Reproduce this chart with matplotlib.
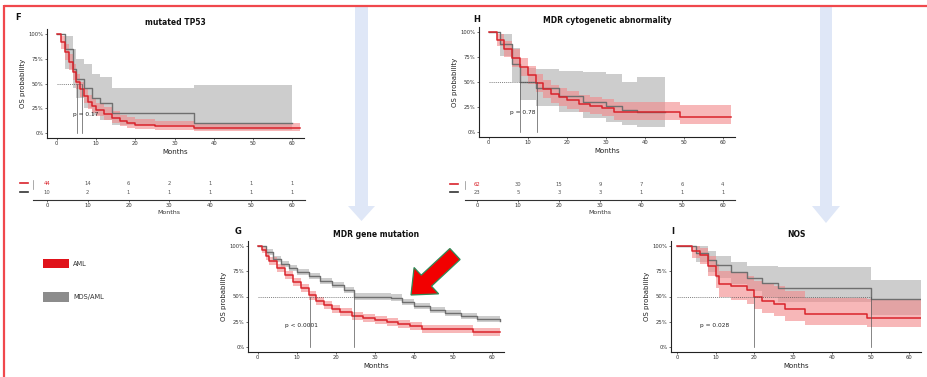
import matplotlib
matplotlib.use("Agg")
import matplotlib.pyplot as plt
from matplotlib.patches import FancyArrow, Rectangle, Polygon

W, H = 927, 377
RED = "#d9232b"
RED_FILL = "#f2878a"
GREY = "#6f6f6f"
GREY_FILL = "#bdbdbd"

# ---------------- data ----------------
month_ticks = [0, 10, 20, 30, 40, 50, 60]
pct_ticks = [0, 25, 50, 75, 100]
pct_labels = ["0%", "25%", "50%", "75%", "100%"]

# Panel F: mutated TP53
f_aml_t = [0, 1, 2, 3, 4, 5, 6, 7, 8, 9, 10, 12, 14, 16, 18, 20, 25, 35, 62]
f_aml_s = [100, 92, 82, 72, 62, 52, 44, 37, 31, 27, 23, 19, 15, 12, 10, 8, 7, 5, 5]
f_aml_lo = [100, 85, 74, 64, 54, 44, 36, 30, 24, 20, 17, 13, 10, 7, 5, 4, 3, 2, 2]
f_aml_hi = [100, 98, 90, 80, 70, 60, 52, 45, 38, 34, 30, 26, 22, 18, 16, 14, 12, 10, 10]
f_mds_t = [0, 2, 4, 5, 7, 9, 11, 14, 35, 60]
f_mds_s = [100, 85, 65, 55, 45, 35, 30, 20, 10, 10]
f_mds_lo = [100, 65, 45, 35, 25, 18, 13, 8, 3, 3]
f_mds_hi = [100, 98, 85, 75, 70, 60, 57, 45, 48, 48]
f_medians = [5.2, 6.3]
f_risk_aml = ["44", "14", "6", "2", "1", "1", "1"]
f_risk_mds = ["10", "2", "1", "1", "1", "1", "1"]

# Panel H: MDR cytogenetic abnormality
h_aml_t = [0, 2, 4, 6, 8, 10, 12, 14, 16, 18, 20, 23, 26, 29, 32, 49, 62]
h_aml_s = [100, 92, 83, 74, 65, 57, 49, 43, 38, 35, 32, 28, 26, 24, 20, 15, 15]
h_aml_lo = [100, 86, 75, 65, 56, 48, 40, 34, 29, 26, 23, 20, 18, 16, 12, 8, 8]
h_aml_hi = [100, 98, 91, 83, 74, 66, 58, 52, 47, 44, 41, 37, 35, 33, 30, 27, 27]
h_mds_t = [0, 3, 6, 8, 12, 18, 24, 30, 34, 38, 45]
h_mds_s = [100, 88, 68, 50, 44, 36, 30, 26, 22, 20, 20]
h_mds_lo = [100, 76, 50, 32, 26, 20, 14, 10, 7, 5, 5]
h_mds_hi = [100, 98, 84, 64, 63, 61, 60, 58, 50, 55, 55]
h_medians = [8.0, 12.3]
h_risk_aml = ["62", "30", "15", "9", "7", "6", "4"]
h_risk_mds = ["23", "5", "3", "3", "1", "1", "1"]

# Panel G: MDR gene mutation
g_aml_t = [0, 1, 2, 3, 5, 7, 9, 11, 13, 15, 17, 19, 21, 24, 27, 30, 33, 36, 39, 42, 48, 55, 62]
g_aml_s = [100, 96, 90, 85, 78, 71, 64, 58, 51, 46, 42, 38, 35, 31, 29, 27, 25, 23, 21, 18, 18, 15, 15]
g_aml_lo = [100, 93, 86, 81, 74, 67, 60, 54, 47, 42, 38, 34, 31, 27, 25, 23, 21, 19, 17, 14, 14, 11, 11]
g_aml_hi = [100, 99, 94, 89, 82, 75, 68, 62, 55, 50, 46, 42, 39, 35, 33, 31, 29, 27, 25, 22, 22, 19, 19]
g_mds_t = [0, 2, 4, 6, 8, 10, 13, 16, 19, 22, 24.5, 28, 34, 37, 40, 44, 48, 52, 56, 62]
g_mds_s = [100, 94, 87, 82, 78, 74, 70, 65, 61, 56, 50, 50, 49, 45, 41, 37, 34, 31, 28, 26]
g_mds_lo = [100, 91, 84, 79, 75, 71, 67, 62, 58, 53, 47, 47, 46, 42, 38, 34, 31, 28, 25, 22]
g_mds_hi = [100, 97, 90, 85, 81, 77, 73, 68, 64, 59, 53, 53, 52, 48, 44, 40, 37, 34, 31, 30]
g_medians = [13.3, 24.6]

# Panel I: NOS
i_aml_t = [0, 4, 6, 8, 10, 11, 14, 18, 20, 22, 25, 28, 33, 49, 63]
i_aml_s = [100, 95, 91, 80, 70, 62, 60, 56, 50, 46, 43, 38, 33, 29, 29]
i_aml_lo = [100, 88, 82, 70, 58, 50, 47, 43, 38, 34, 31, 26, 22, 20, 20]
i_aml_hi = [100, 100, 98, 90, 82, 75, 73, 70, 65, 62, 60, 55, 49, 48, 48]
i_mds_t = [0, 5, 8, 10, 14, 18, 22, 26, 50, 63]
i_mds_s = [100, 93, 86, 81, 74, 68, 63, 58, 48, 48]
i_mds_lo = [100, 84, 74, 68, 62, 55, 50, 45, 32, 32]
i_mds_hi = [100, 100, 95, 90, 84, 80, 80, 79, 66, 66]
i_medians = [20.0, 50.0]

legend_labels = ["AML", "MDS/AML"]

# ---------------- helpers ----------------
fig = plt.figure(figsize=(W / 100, H / 100), dpi=100)
fig.patch.set_facecolor("white")


def px_axes(x0, y0, x1, y1, z=1):
    ax = fig.add_axes([x0 / W, 1 - y1 / H, (x1 - x0) / W, (y1 - y0) / H], zorder=z)
    ax.patch.set_alpha(0)
    return ax


# background overlay (border + blue arrows)
bg = px_axes(0, 0, W, H, z=0)
bg.set_xlim(0, W)
bg.set_ylim(H, 0)
bg.axis("off")
bg.plot([4, W], [5.5, 5.5], color="#f0484c", lw=1.6, solid_capstyle="butt")
bg.plot([4.5, 4.5], [5, H], color="#f0484c", lw=1.6, solid_capstyle="butt")
for cx, ytop, ybase, ytip, sw, hw in [(361.5, 6, 206, 221, 13, 27), (826, 6, 206, 223, 12, 28)]:
    bg.add_patch(Polygon([[cx - sw / 2, ytop], [cx + sw / 2, ytop], [cx + sw / 2, ybase],
                          [cx + hw / 2, ybase], [cx, ytip], [cx - hw / 2, ybase],
                          [cx - sw / 2, ybase]], closed=True, facecolor="#dfe7f7",
                         edgecolor="none"))


def km_panel(box, letter, letter_px, title, aml, mds, medians, ptext, ppos,
             xlim=(-2.5, 63), hline_style=(0, (1.5, 1.5)), vline_style="-"):
    ax = px_axes(*box)
    at, as_, alo, ahi = aml
    mt, ms, mlo, mhi = mds
    ax.fill_between(mt, mlo, mhi, step="post", color=GREY_FILL, alpha=0.75, lw=0, zorder=1)
    ax.fill_between(at, alo, ahi, step="post", color=RED_FILL, alpha=0.6, lw=0, zorder=2)
    ax.step(mt, ms, where="post", color=GREY, lw=1.0, zorder=3)
    ax.step(at, as_, where="post", color=RED, lw=1.1, zorder=4)
    ax.plot([0, max(medians)], [50, 50], color="#555555", lw=0.5, ls=hline_style, zorder=5)
    for m in medians:
        ax.plot([m, m], [0, 50], color="#555555", lw=0.5, ls=vline_style, zorder=5)
    ax.text(ppos[0], ppos[1], ptext, fontsize=4.2, color="#222222", zorder=6)
    ax.set_xlim(*xlim)
    ax.set_ylim(-5, 105)
    ax.set_xticks(month_ticks)
    ax.set_yticks(pct_ticks)
    ax.set_yticklabels(pct_labels)
    ax.tick_params(labelsize=3.8, length=1.5, width=0.5, pad=1, colors="#333333")
    for s in ["top", "right"]:
        ax.spines[s].set_visible(False)
    for s in ["left", "bottom"]:
        ax.spines[s].set_linewidth(0.8)
        ax.spines[s].set_color("#222222")
    ax.set_xlabel("Months", fontsize=5, labelpad=1.5, color="#222222")
    ax.set_ylabel("OS probability", fontsize=5, labelpad=2, color="#222222")
    ax.set_title(title, fontsize=5.5, fontweight="bold", pad=3, color="#111111")
    fig.text(letter_px[0] / W, 1 - letter_px[1] / H, letter, fontsize=6,
             fontweight="bold", color="#111111", ha="center", va="center")
    return ax


def risk_table(box, rows, xlim):
    ax = px_axes(*box)
    ax.set_xlim(*xlim)
    ax.set_ylim(-0.5, 2.0)
    for ri, (vals, col) in enumerate(rows):
        y = 1.4 - ri * 1.0
        for t, v in zip(month_ticks, vals):
            ax.text(t, y, v, fontsize=3.8, ha="center", va="center",
                    color=(RED if (ri == 0 and t == 0) else "#555555"))
        ax.plot([-6.6, -4.6], [y, y], color=col, lw=1.2, clip_on=False)
    ax.set_xticks(month_ticks)
    ax.set_yticks([])
    ax.tick_params(labelsize=3.8, length=1.5, width=0.5, pad=1, colors="#333333")
    for s in ["top", "right"]:
        ax.spines[s].set_visible(False)
    ax.spines["left"].set_bounds(0.8, 1.8)
    ax.spines["left"].set_linewidth(0.5)
    ax.spines["left"].set_color("#888888")
    ax.spines["bottom"].set_linewidth(0.8)
    ax.spines["bottom"].set_color("#333333")
    ax.set_xlabel("Months", fontsize=4.5, labelpad=1, color="#333333")
    return ax


# ---------------- panels ----------------
km_panel((47, 29, 304, 138), "F", (18, 17), "mutated TP53",
         (f_aml_t, f_aml_s, f_aml_lo, f_aml_hi),
         (f_mds_t, f_mds_s, f_mds_lo, f_mds_hi),
         f_medians, "p = 0.17", (4, 17))
risk_table((33, 178, 305, 200), [(f_risk_aml, RED), (f_risk_mds, "#333333")], (-3.4, 63.2))

km_panel((479, 27, 735, 137), "H", (477, 19), "MDR cytogenetic abnormality",
         (h_aml_t, h_aml_s, h_aml_lo, h_aml_hi),
         (h_mds_t, h_mds_s, h_mds_lo, h_mds_hi),
         h_medians, "p = 0.78", (5.4, 18))
risk_table((465, 179, 735, 200), [(h_risk_aml, RED), (h_risk_mds, "#333333")], (-3.0, 63.0))

km_panel((248, 241, 504, 352), "G", (238, 231), "MDR gene mutation",
         (g_aml_t, g_aml_s, g_aml_lo, g_aml_hi),
         (g_mds_t, g_mds_s, g_mds_lo, g_mds_hi),
         g_medians, "p < 0.0001", (7, 20))

km_panel((671, 241, 921, 352), "I", (673, 231), "NOS",
         (i_aml_t, i_aml_s, i_aml_lo, i_aml_hi),
         (i_mds_t, i_mds_s, i_mds_lo, i_mds_hi),
         i_medians, "p = 0.028", (6, 20), xlim=(-1.5, 63))

# ---------------- legend + red arrow overlay ----------------
ov = px_axes(0, 0, W, H, z=10)
ov.set_xlim(0, W)
ov.set_ylim(H, 0)
ov.axis("off")
ov.add_patch(Rectangle((43, 259), 26, 9, facecolor="#e0121a", edgecolor="none"))
ov.add_patch(Rectangle((43, 292), 26, 10, facecolor="#8c8c8c", edgecolor="none"))
ov.text(73, 264, legend_labels[0], fontsize=4.8, va="center", color="#333333")
ov.text(73, 297, legend_labels[1], fontsize=4.8, va="center", color="#333333")
ov.add_patch(FancyArrow(455, 254, -44, 41, width=15, head_width=36, head_length=21,
                        length_includes_head=True, facecolor="#f20000",
                        edgecolor="#2e8b57", lw=0.9))

fig.savefig("out.png", dpi=100)
